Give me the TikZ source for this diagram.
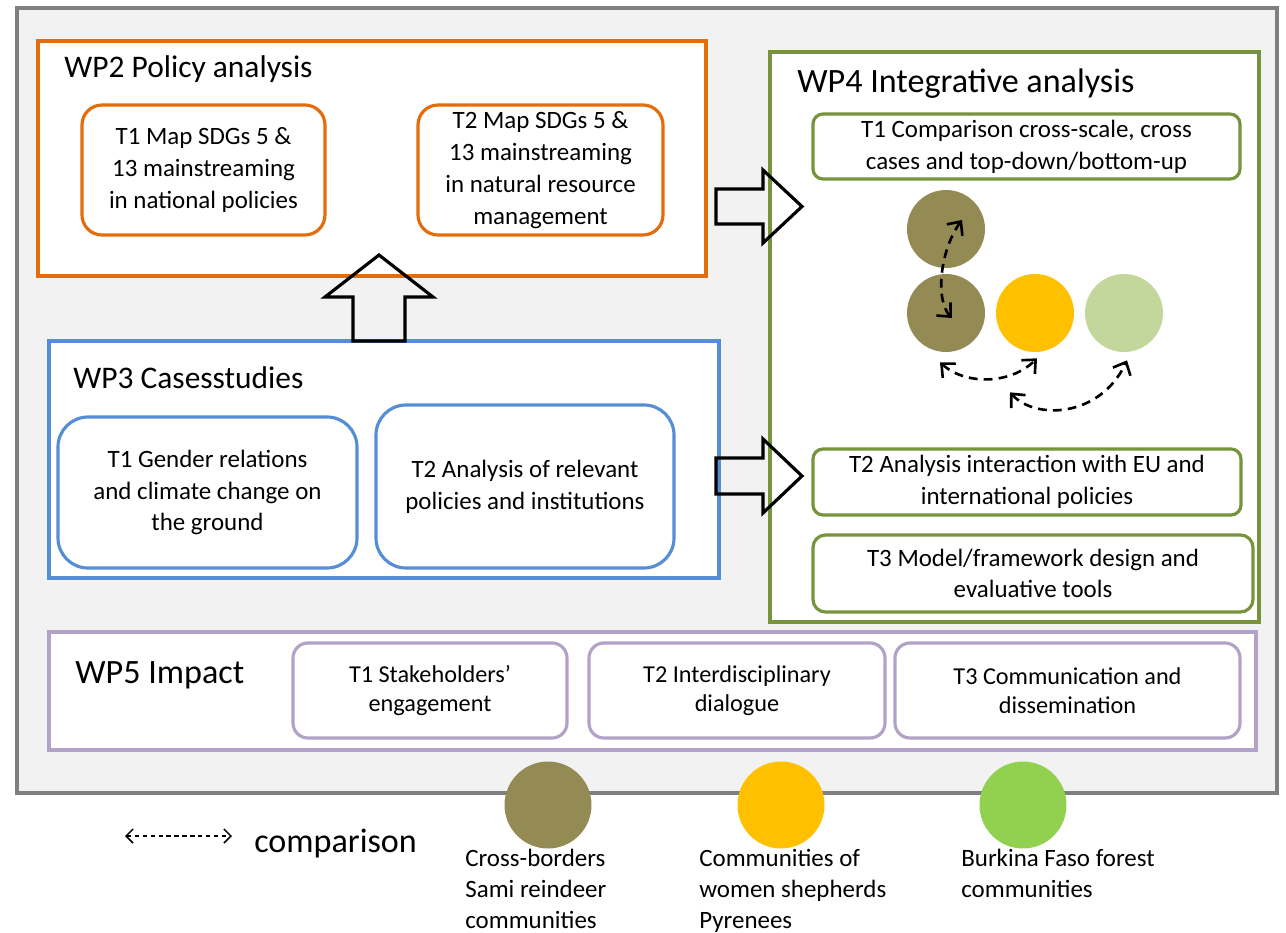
\documentclass[tikz,border=0pt]{standalone}
\usepackage{fontspec}
\setmainfont{Carlito}
\usetikzlibrary{arrows.meta,fit,calc}

\definecolor{wporange}{HTML}{E46C0A}
\definecolor{wpblue}{HTML}{558ED5}
\definecolor{wpgreen}{HTML}{77933C}
\definecolor{wppurple}{HTML}{B3A2C7}
\definecolor{bggray}{HTML}{F2F2F2}
\definecolor{framegray}{HTML}{7F7F7F}
\definecolor{samiolive}{HTML}{948A54}
\definecolor{pyrgold}{HTML}{FFC000}
\definecolor{palegreen}{HTML}{C3D69B}
\definecolor{burkgreen}{HTML}{92D050}

\newcommand\tasksize{\fontsize{14.2}{18.1}\selectfont}
\newcommand\impactsize{\fontsize{13.8}{16.2}\selectfont}
\newcommand\wpsize{\fontsize{17.9}{21}\selectfont}
\newcommand\bigsize{\fontsize{19.4}{23}\selectfont}
\newcommand\legendsize{\fontsize{14.2}{17.6}\selectfont}

\begin{document}
\begin{tikzpicture}[x=0.02cm, y=-0.02cm,
  wpbox/.style={draw=#1, line width=2pt, fill=white, inner sep=0pt},
  task/.style={draw=#1, line width=1.8pt, fill=white, inner sep=0pt, align=center, font=\tasksize},
  boxsize/.style 2 args={minimum width=#1*0.02cm, minimum height=#2*0.02cm},
  wptitle/.style={anchor=base west, inner sep=0pt, font=\wpsize},
  blockarrow/.style={draw=black, line width=1.8pt, line join=miter},
  dot/.style={circle, fill=#1, inner sep=0pt, minimum size=1.56cm},
  flow/.style={dash pattern=on 5pt off 3.5pt, line width=1.5pt, {Straight Barb[length=6pt,width=11pt]}-{Straight Barb[length=6pt,width=11pt]}},
  cmp/.style={dash pattern=on 2.5pt off 2pt, line width=0.9pt, {Straight Barb[length=4pt,width=8pt]}-{Straight Barb[length=4pt,width=8pt]}},
  legend/.style={anchor=north west, inner sep=0pt, align=left, font=\legendsize}]

\useasboundingbox (0,0) rectangle (1286,933);
\draw[framegray, fill=bggray, line width=1.8pt] (17,8) rectangle (1277,793);

% WP2
\node[wpbox=wporange, fit={(38,41) (706,276)}] (wptwo) {};
\node[wptitle] (wptwotitle) at (64,77) {WP2 Policy analysis};
\node[task=wporange, rounded corners=0.4cm, boxsize={243}{130}] (wptwoa) at (203.5,170)
  {T1 Map SDGs 5 \&\\13 mainstreaming\\in national policies};
\node[task=wporange, rounded corners=0.4cm, boxsize={245}{130}] (wptwob) at (540.5,170)
  {T2 Map SDGs 5 \&\\13 mainstreaming\\in natural resource\\management};

% WP3
\node[wpbox=wpblue, fit={(49,341) (719,578)}] (wpthree) {};
\node[wptitle] (wpthreetitle) at (73,388) {WP3 Casesstudies};
\node[task=wpblue, rounded corners=0.6cm, boxsize={299}{151}] (wpthreea) at (207.5,492.5)
  {T1 Gender relations\\and climate change on\\the ground};
\node[task=wpblue, rounded corners=0.6cm, boxsize={298}{163}] (wpthreeb) at (525,486.5)
  {T2 Analysis of relevant\\policies and institutions};

% WP4
\node[wpbox=wpgreen, fit={(770,52) (1259,622)}] (wpfour) {};
\node[wptitle, font=\bigsize] (wpfourtitle) at (797,92) {WP4 Integrative analysis};
\node[task=wpgreen, rounded corners=0.2cm, boxsize={427}{65}] (wpfoura) at (1026.5,146.5)
  {T1 Comparison cross-scale, cross\\cases and top-down/bottom-up};
\node[task=wpgreen, rounded corners=0.2cm, boxsize={428}{66}] (wpfourb) at (1027,482)
  {T2 Analysis interaction with EU and\\international policies};
\node[task=wpgreen, rounded corners=0.25cm, boxsize={440}{77}] (wpfourc) at (1033,573.5)
  {T3 Model/framework design and\\evaluative tools};

\node[dot=samiolive] (samitop) at (946,229) {};
\node[dot=samiolive] (samibot) at (946,313) {};
\node[dot=pyrgold] (pyrcase) at (1035,313) {};
\node[dot=palegreen] (burkcase) at (1124,313) {};

\draw[flow] ($(samibot.center)+(6,5)$) .. controls (935,300) and (940,250) .. ($(samitop.center)+(16,-9)$);
\draw[flow] ($(samibot.south)+(-6,10)$) .. controls (965,385) and (1010,385) .. ($(pyrcase.south)+(2,6)$);
\draw[flow] ($(samibot.south)+(64,40)$) .. controls (1035,420) and (1100,418) .. ($(burkcase.south)+(3,8)$);

% WP5
\node[wpbox=wppurple, fit={(49,632) (1256,750)}] (wpfive) {};
\node[wptitle, font=\bigsize] (wpfivetitle) at (75,683) {WP5 Impact};
\node[task=wppurple, font=\impactsize, rounded corners=0.3cm, boxsize={274}{95}] (wpfivea) at (430,690.5)
  {T1 Stakeholders'\\engagement};
\node[task=wppurple, font=\impactsize, rounded corners=0.3cm, boxsize={296}{95}] (wpfiveb) at (737,690.5)
  {T2 Interdisciplinary\\dialogue};
\node[task=wppurple, font=\impactsize, rounded corners=0.3cm, boxsize={345}{95}] (wpfivec) at (1067.5,690.5)
  {T3 Communication and\\dissemination};

% block arrows
\coordinate (upbase) at (379,341);
\coordinate (rightonebase) at (716,206.5);
\coordinate (righttwobase) at (716,475.5);
\draw[blockarrow] (upbase) ++(-26,0) -- ++(0,-44) -- ++(-28,0) -- ++(54,-42)
  -- ++(54,42) -- ++(-28,0) -- ++(0,44) -- cycle;
\draw[blockarrow] (rightonebase) ++(0,-17.5) -- ++(47,0) -- ++(0,-19) -- ++(39,36.5)
  -- ++(-39,36.5) -- ++(0,-19) -- ++(-47,0) -- cycle;
\draw[blockarrow] (righttwobase) ++(0,-17.5) -- ++(47,0) -- ++(0,-19) -- ++(39,37)
  -- ++(-39,37) -- ++(0,-19) -- ++(-47,0) -- cycle;

% legend
\coordinate (cmpleft) at (125,836);
\coordinate (cmpright) at (232,836);
\draw[cmp] (cmpleft) -- (cmpright);
\node[anchor=base west, inner sep=0pt, font=\bigsize] (cmptext) at (254,852) {comparison};

\node[dot=samiolive, minimum size=1.74cm] (legsami) at (548,805) {};
\node[dot=pyrgold, minimum size=1.74cm] (legpyr) at (781,805) {};
\node[dot=burkgreen, minimum size=1.74cm] (legburk) at (1023,805) {};
\node[legend] (legsamitext) at (465,849) {Cross-borders\\Sami reindeer\\communities};
\node[legend] (legpyrtext) at (699,849) {Communities of\\women shepherds\\Pyrenees};
\node[legend] (legburktext) at (961,849) {Burkina Faso forest\\communities};
\end{tikzpicture}
\end{document}
